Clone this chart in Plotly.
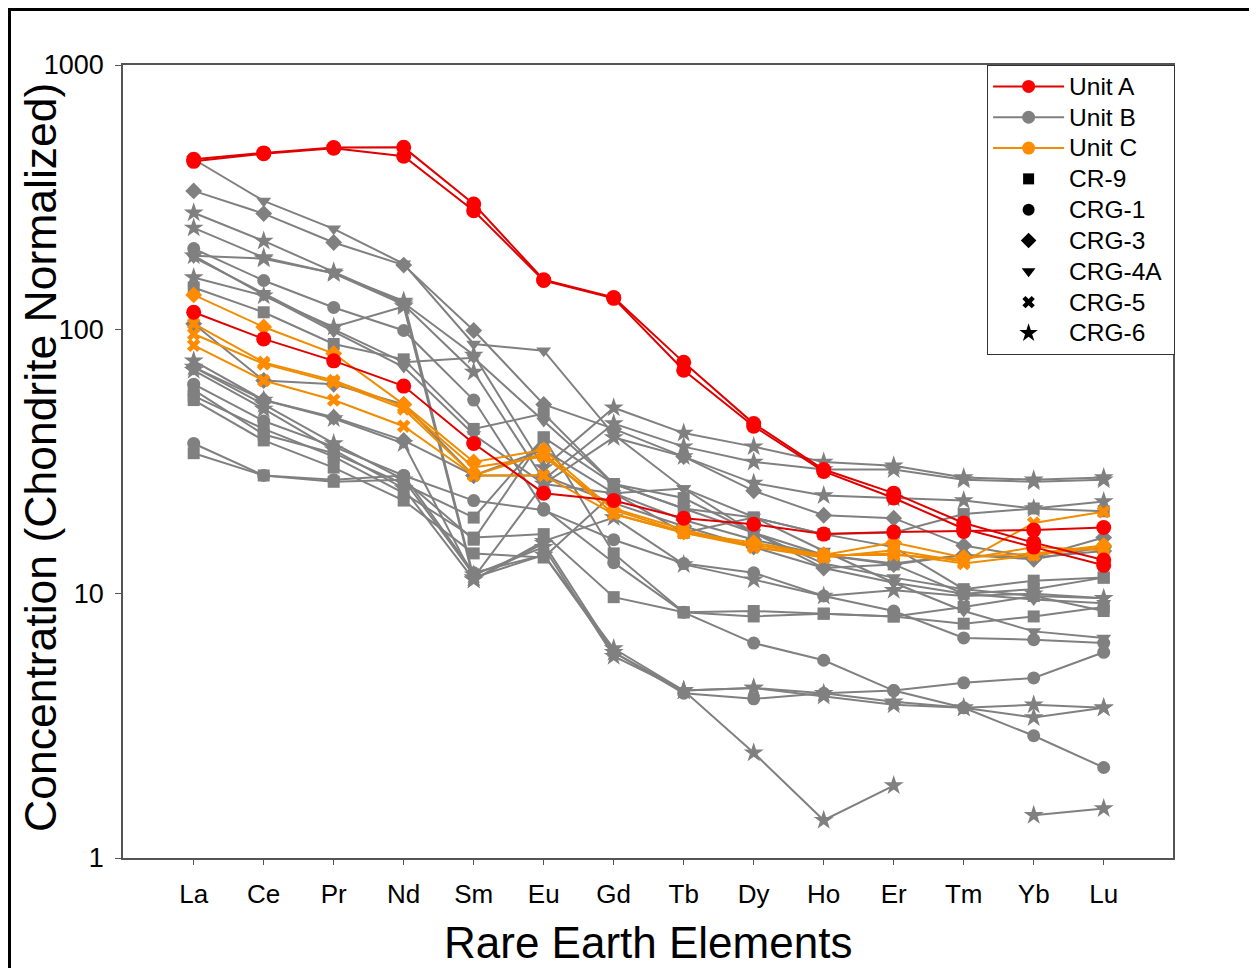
import plotly.graph_objects as go

# ---------------- data ----------------
ELEMENTS = ["La", "Ce", "Pr", "Nd", "Sm", "Eu", "Gd", "Tb", "Dy", "Ho", "Er", "Tm", "Yb", "Lu"]
Y_TICKS = [1, 10, 100, 1000]
UNITS = ["Unit A", "Unit B", "Unit C"]
SAMPLES = ["CR-9", "CRG-1", "CRG-3", "CRG-4A", "CRG-5", "CRG-6"]

# Unit A (red)
a_crg1_1 = [440, 465, 487, 488, 298, 154, 132, 75, 44, 29.5, 24, 18.5, 15.6, 13.4]
a_crg1_2 = [432, 462, 484, 452, 281, 153, 131, 70, 43, 29, 23, 17.6, 15.0, 12.8]
a_crg1_3 = [116, 92, 76, 61, 37, 24, 22.5, 19.3, 18.3, 16.8, 17.1, 17.2, 17.4, 17.8]

# Unit C (orange)
c_crg3_1 = [135, 102, 81, 52, 31.5, 35, 20.7, 17.1, 15.6, 14.0, 15.6, 13.7, 14.2, 15.2]
c_crg5_1 = [105, 75, 64, 51, 30, 33, 21, 17.5, 15.0, 13.7, 14.6, 13.2, 18.5, 20.4]
c_crg5_2 = [96, 74, 63, 50, 28, 28, 20, 17.0, 15.3, 14.0, 14.0, 13.5, 15.0, 14.6]
c_crg5_3 = [87, 64, 54, 43, 28, 34, 20, 17.0, 15.0, 13.9, 14.2, 13.0, 14.0, 15.0]

# Unit B (grey)
b_crg4a_1 = [440, 306, 240, 177, 88, 83, 40, 25, 19.5, 14.5, 11.0, 8.6, 7.2, 6.8]
b_crg3_1 = [334, 274, 213, 175, 99, 52, 42, 33, 24.5, 19.8, 19.3, 15.2, 13.7, 16.3]
b_crg6_1 = [276, 216, 165, 126, 80, 30, 50.5, 40.5, 36, 31.5, 30.5, 27.5, 27, 27.5]
b_crg6_2 = [242, 187, 163, 124, 69, 27, 44, 36, 31.5, 29.5, 29.5, 27, 26.5, 27]
b_crg1_1 = [202, 153, 121, 99, 54, 21, 13.1, 8.5, 6.5, 5.6, 4.3, 3.7, 2.9, 2.2]
b_crg6_3 = [190, 185, 163, 128, 11.5, 26, 39, 33, 26.2, 23.5, 23, 22.5, 21, 22.3]
b_crg4a_2 = [187, 137, 100, 75, 78, 45, 26, 21, 17, 13, 11.5, 10.4, 9.8, 9.6]
b_crg6_4 = [157, 134, 102, 122, 11.3, 15.8, 19.4, 12.9, 11.3, 9.8, 10.3, 9.8, 10, 9.6]
b_cr9_1 = [144, 116, 88, 77, 42, 48, 26, 21, 19.4, 16.8, 17, 20, 21, 20.5]
b_crg6_5 = [76, 54, 46, 37, 11.5, 14, 6.2, 4.3, 4.4, 4.2, 3.9, 3.7, 3.8, 3.7]
b_crg6_6 = [72, 52, 37, 27, 11.8, 15, 5.8, 4.3, 2.5, 1.39, 1.88, None, 1.45, 1.54]
b_crg6_7 = [70, 50, 35, 25, 11.3, 15.5, 6.0, 4.3, 4.4, 4.1, 3.8, 3.7, 3.4, 3.7]
b_crg1_2 = [62, 45, 36, 28, 22.5, 20.7, 16, 13, 12.0, 9.8, 8.6, 6.8, 6.7, 6.5]
b_cr9_2 = [59, 40, 34, 26, 19.4, 39, 14.2, 8.5, 8.6, 8.4, 8.2, 7.7, 8.2, 8.9]
b_cr9_3 = [56, 42, 33, 24, 16.3, 16.8, 9.7, 8.5, 8.2, 8.4, 8.2, 8.9, 9.8, 8.6]
b_cr9_4 = [54, 38, 30, 22.5, 14.2, 13.7, 24, 17, 19.4, 16.8, 15, 10.4, 11.2, 11.5]
b_crg1_3 = [37, 28, 27, 28, 12, 14, 6, 4.2, 4.0, 4.2, 4.3, 4.6, 4.8, 6.0]
b_cr9_5 = [34, 28, 26.5, 27, 16, 39, 26, 23, 17, 14, 12.9, 10, 10.4, 11.5]
b_crg3_2 = [72, 54, 46.5, 38, 28, 28, 22, 18, 15, 12.5, 12.9, 14, 13.7, 14.5]
b_crg3_3 = [105, 64, 62, 52, 28, 35, 24, 19, 16, 14, 13, 14, 13.5, 15]
b_crg4a_3 = [190, 135, 98, 72, 40, 26, 24, 25, 17, 12.5, 11, 10, 9.5, 9.2]

SERIES = [
    ("Unit B", "CRG-4A", b_crg4a_1), ("Unit B", "CRG-3", b_crg3_1),
    ("Unit B", "CRG-6", b_crg6_1), ("Unit B", "CRG-6", b_crg6_2),
    ("Unit B", "CRG-1", b_crg1_1), ("Unit B", "CRG-6", b_crg6_3),
    ("Unit B", "CRG-4A", b_crg4a_2), ("Unit B", "CRG-6", b_crg6_4),
    ("Unit B", "CR-9", b_cr9_1), ("Unit B", "CRG-6", b_crg6_5),
    ("Unit B", "CRG-6", b_crg6_6), ("Unit B", "CRG-6", b_crg6_7),
    ("Unit B", "CRG-1", b_crg1_2), ("Unit B", "CR-9", b_cr9_2),
    ("Unit B", "CR-9", b_cr9_3), ("Unit B", "CR-9", b_cr9_4),
    ("Unit B", "CRG-1", b_crg1_3), ("Unit B", "CR-9", b_cr9_5),
    ("Unit B", "CRG-3", b_crg3_2), ("Unit B", "CRG-3", b_crg3_3),
    ("Unit B", "CRG-4A", b_crg4a_3),
    ("Unit C", "CRG-3", c_crg3_1), ("Unit C", "CRG-5", c_crg5_1),
    ("Unit C", "CRG-5", c_crg5_2), ("Unit C", "CRG-5", c_crg5_3),
    ("Unit A", "CRG-1", a_crg1_1), ("Unit A", "CRG-1", a_crg1_2),
    ("Unit A", "CRG-1", a_crg1_3),
]

# ---------------- styles ----------------
UNIT_COLOR = {"Unit A": "#FF0000", "Unit B": "#808080", "Unit C": "#FF8C00"}
UNIT_LINE = {"Unit A": "#E00000", "Unit B": "#808080", "Unit C": "#F08C00"}
SYMBOL = {"CR-9": "square", "CRG-1": "circle", "CRG-3": "diamond",
          "CRG-4A": "triangle-down", "CRG-5": "x", "CRG-6": "star"}
SIZE = {"CR-9": 12, "CRG-1": 13, "CRG-3": 13, "CRG-4A": 13, "CRG-5": 12, "CRG-6": 15}
FONT = "Arial, Liberation Sans, sans-serif"
LEG_TEXT = "<span style='font-size:24.5px'>%s&nbsp;</span>"

x_idx = list(range(len(ELEMENTS)))
fig = go.Figure()

for unit, sample, vals in SERIES:
    size = SIZE[sample] + (2 if unit == "Unit A" else 0)
    fig.add_trace(go.Scatter(
        x=x_idx, y=vals, mode="lines+markers", showlegend=False,
        connectgaps=False, hoverinfo="skip",
        line=dict(color=UNIT_LINE[unit], width=2),
        marker=dict(symbol=SYMBOL[sample], size=size, color=UNIT_COLOR[unit],
                    line=dict(width=0))))

# legend entries
for unit in UNITS:
    fig.add_trace(go.Scatter(
        x=[None], y=[None], mode="lines+markers", name=LEG_TEXT % unit,
        line=dict(color=UNIT_LINE[unit], width=2),
        marker=dict(symbol="circle", size=13, color=UNIT_COLOR[unit])))
for sample in SAMPLES:
    fig.add_trace(go.Scatter(
        x=[None], y=[None], mode="markers", name=LEG_TEXT % sample,
        marker=dict(symbol=SYMBOL[sample], size=SIZE[sample] - 1, color="black")))

# page has an 8px body margin: figure is laid out in page coords minus 8
OFF = 8
W, H = 1257 - OFF, 968 - OFF
ML, MT = 123 - OFF, 65 - OFF
MR = W - (1173 - OFF)
MB = H - (858 - OFF)
pw, ph = W - ML - MR, H - MT - MB
PLOT_BOTTOM = 858 - OFF  # fig y of x-axis


def px_y(fig_y):
    return (PLOT_BOTTOM - fig_y) / ph


def px_x(fig_x):
    return (fig_x - ML) / pw


fig.update_layout(
    width=W, height=H, plot_bgcolor="white", paper_bgcolor="white",
    margin=dict(l=ML, r=MR, t=MT, b=MB, autoexpand=False),
    font=dict(family=FONT, color="black"),
    showlegend=True,
    legend=dict(x=1.002, xanchor="right", y=1.0, yanchor="top",
                bgcolor="white", bordercolor="#333333", borderwidth=1,
                font=dict(size=21.4, family=FONT, color="black"),
                itemwidth=71, tracegroupgap=0),
    xaxis=dict(range=[-1.01, 13.99], tickvals=x_idx, ticktext=ELEMENTS,
               showgrid=False, zeroline=False, showline=True, mirror=True,
               linecolor="#555555", linewidth=1.5, ticks="outside", ticklen=5,
               tickcolor="#555555", ticklabelstandoff=7,
               tickfont=dict(size=26, family=FONT, color="black")),
    yaxis=dict(type="log", range=[0, 3], tickvals=Y_TICKS,
               ticktext=[str(v) for v in Y_TICKS],
               showgrid=False, zeroline=False, showline=True, mirror=True,
               linecolor="#555555", linewidth=1.5, ticks="outside", ticklen=6,
               tickcolor="#555555", ticklabelstandoff=6,
               tickfont=dict(size=27, family=FONT, color="black")),
    annotations=[
        dict(text="Rare Earth Elements", xref="paper", yref="paper",
             x=0.5, y=px_y(942 - OFF), xanchor="center", yanchor="middle",
             showarrow=False, font=dict(size=44, family=FONT, color="black")),
        dict(text="Concentration (Chondrite Normalized)", xref="paper", yref="paper",
             x=px_x(40 - OFF), y=px_y(458 - OFF), xanchor="center", yanchor="middle",
             textangle=-90, showarrow=False,
             font=dict(size=44.5, family=FONT, color="black")),
    ],
    shapes=[dict(type="rect", xref="paper", yref="paper",
                 x0=px_x(1.5), x1=px_x(W + 20),
                 y0=px_y(H + 20), y1=px_y(1.5),
                 line=dict(color="black", width=3), fillcolor="rgba(0,0,0,0)",
                 layer="above")],
)

fig.write_html("out.html")
